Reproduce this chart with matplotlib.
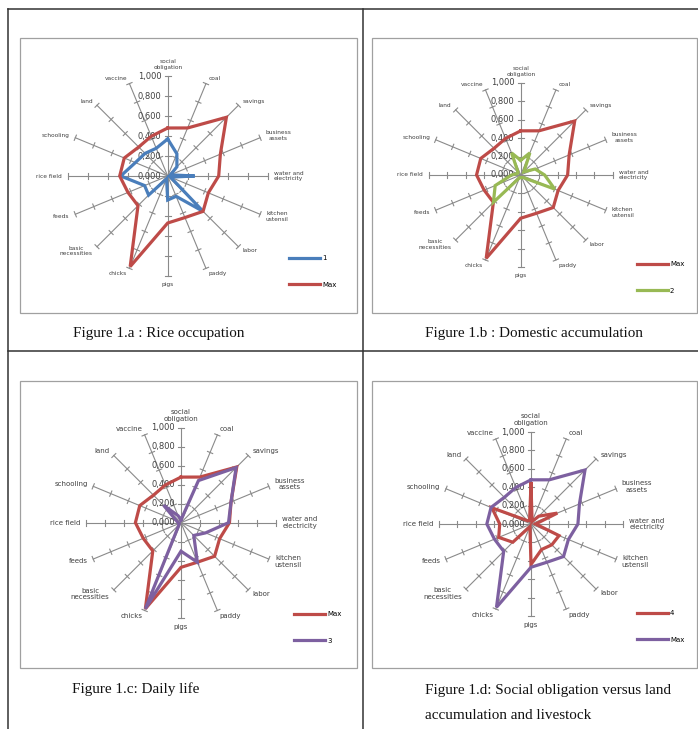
import matplotlib
matplotlib.use("Agg")
import numpy as np
import matplotlib.pyplot as plt
from matplotlib.lines import Line2D
from matplotlib.patches import Rectangle

# categories of the radar charts (clockwise from the top)
categories = ["social\nobligation", "coal", "savings", "business\nassets",
              "water and\nelectricity", "kitchen\nustensil", "labor", "paddy",
              "pigs", "chicks", "basic\nnecessities", "feeds", "rice field",
              "schooling", "land", "vaccine"]

value_ticks = [0.0, 0.2, 0.4, 0.6, 0.8, 1.0]
value_labels = ["0,000", "0,200", "0,400", "0,600", "0,800", "1,000"]

max_vals = [0.48, 0.52, 0.83, 0.57, 0.51, 0.44, 0.50, 0.45,
            0.47, 0.98, 0.42, 0.43, 0.48, 0.47, 0.41, 0.43]
group1 = [0.37, 0.24, 0.13, 0.03, 0.27, 0.03, 0.50, 0.22,
          0.24, 0.03, 0.27, 0.25, 0.47, 0.35, 0.32, 0.30]
group2 = [0.16, 0.26, 0.05, 0.17, 0.26, 0.40, 0.04, 0.03,
          0.03, 0.03, 0.42, 0.30, 0.10, 0.04, 0.04, 0.26]
group3 = [0.03, 0.48, 0.82, 0.57, 0.50, 0.28, 0.19, 0.45,
          0.30, 0.98, 0.03, 0.02, 0.03, 0.05, 0.26, 0.08]
group4 = [0.44, 0.03, 0.12, 0.31, 0.05, 0.33, 0.32, 0.30,
          0.44, 0.03, 0.28, 0.38, 0.34, 0.46, 0.05, 0.04]

captions = ["Figure 1.a : Rice occupation", "Figure 1.b : Domestic accumulation",
            "Figure 1.c: Daily life",
            "Figure 1.d: Social obligation versus land\naccumulation and livestock"]

BLUE, RED, GREEN, PURPLE = "#4A7EBB", "#BE4B48", "#98B954", "#7D60A0"
GREY = "#8a8a8a"

W, H = 698, 729
fig = plt.figure(figsize=(W / 100, H / 100), dpi=100)


def fx(x):
    return x / W


def fy(y):
    return 1 - y / H


# table grid
for x0, y0, x1, y1 in [(8, 9, 698, 9), (8, 9, 8, 729), (363, 9, 363, 729),
                       (8, 351, 698, 351)]:
    fig.add_artist(Line2D([fx(x0), fx(x1)], [fy(y0), fy(y1)],
                          transform=fig.transFigure, color="#333333", lw=1.1))

# chart frames
for x0, y0, x1, y1 in [(20, 38, 357, 313), (372, 38, 697, 313),
                       (20, 381, 357, 668), (372, 381, 697, 668)]:
    fig.add_artist(Rectangle((fx(x0), fy(y1)), fx(x1) - fx(x0), fy(y0) - fy(y1),
                             transform=fig.transFigure, fill=False,
                             edgecolor="#a0a0a0", lw=0.9))

angles = np.arange(len(categories)) * 2 * np.pi / len(categories)


def radar(cx, cy, R, series, leg_xy, lab_fs, val_fs):
    ax = fig.add_axes([fx(cx - R), fy(cy + R), 2 * R / W, 2 * R / H],
                      projection="polar")
    ax.set_theta_zero_location("N")
    ax.set_theta_direction(-1)
    ax.set_ylim(0, 1)
    ax.axis("off")

    # spokes with tick marks
    h = 2.8 / R
    for a in angles:
        ax.plot([a, a], [0, 1], color=GREY, lw=0.8, clip_on=False, zorder=1)
        for r in value_ticks[1:]:
            d = np.arctan(h / r)
            rr = np.hypot(r, h)
            ax.plot([a - d, a + d], [rr, rr], color=GREY, lw=0.8,
                    clip_on=False, zorder=1)

    # value labels along the vertical axis
    for r, t in zip(value_ticks, value_labels):
        ax.annotate(t, xy=(0, r), xytext=(-4.5, 0), textcoords="offset points",
                    ha="right", va="center", fontsize=val_fs, color="#404040",
                    zorder=2)

    # category labels
    for a, c in zip(angles, categories):
        s, co = np.sin(a), np.cos(a)
        ha = "left" if s > 0.1 else ("right" if s < -0.1 else "center")
        if abs(s) < 0.1:
            va = "bottom" if co > 0 else "top"
        else:
            va = "center"
        ax.annotate(c, xy=(a, 1), xytext=(4.3 * s, 4.3 * co),
                    textcoords="offset points", ha=ha, va=va,
                    multialignment="center", fontsize=lab_fs, color="#404040",
                    linespacing=1.15, annotation_clip=False)

    handles = []
    for vals, color, name in series:
        v = list(vals) + [vals[0]]
        a = list(angles) + [angles[0]]
        ln, = ax.plot(a, v, color=color, lw=2.3, clip_on=False, zorder=3,
                      label=name, solid_joinstyle="miter")
        handles.append(ln)

    ax.legend(handles=handles, loc="upper left",
              bbox_to_anchor=(fx(leg_xy[0]), fy(leg_xy[1])),
              bbox_transform=fig.transFigure, frameon=False, fontsize=5,
              handlelength=4.4, labelspacing=3.0, handletextpad=0.35,
              borderpad=0, borderaxespad=0)
    return ax


radar(167.7, 176, 100, [(group1, BLUE, "1"), (max_vals, RED, "Max")],
      (289, 255), 4.2, 6)
radar(520.7, 175, 92, [(max_vals, RED, "Max"), (group2, GREEN, "2")],
      (637, 261), 4.2, 6)
radar(181, 522.7, 95, [(max_vals, RED, "Max"), (group3, PURPLE, "3")],
      (294, 611), 5, 6)
radar(531, 524, 92, [(group4, RED, "4"), (max_vals, PURPLE, "Max")],
      (637, 610), 5, 6)

cap = dict(family="Liberation Serif", fontsize=10.9, color="#111111", va="center")
fig.text(fx(73), fy(334), captions[0], **cap)
fig.text(fx(425), fy(334), captions[1], **cap)
fig.text(fx(72), fy(689), captions[2], **cap)
fig.text(fx(425), fy(703), captions[3], linespacing=2.15, **cap)

fig.savefig("out.png", dpi=100)
